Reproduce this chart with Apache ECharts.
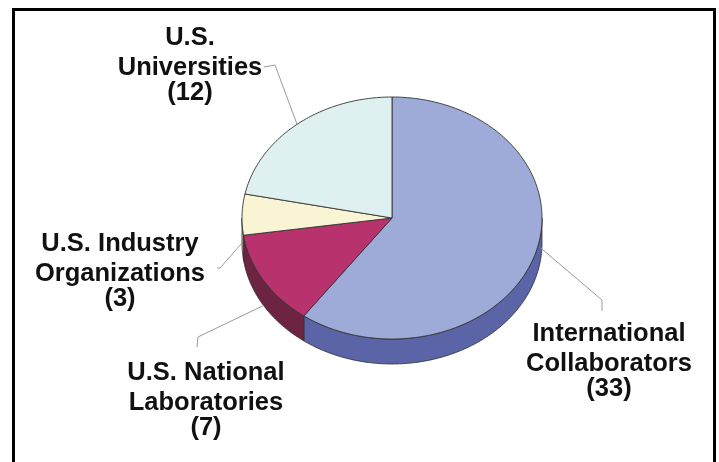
<!DOCTYPE html>
<html>
<head>
<meta charset="utf-8">
<script src="https://cdn.jsdelivr.net/npm/echarts@6/dist/echarts.min.js"></script>
<style>
  html, body { margin: 0; padding: 0; background: #ffffff; }
  #chart { width: 719px; height: 462px; }
</style>
</head>
<body>
<div id="chart"></div>
<script>
// Participants by organization type
const categories = [
  'International\nCollaborators',
  'U.S. National\nLaboratories',
  'U.S. Industry\nOrganizations',
  'U.S.\nUniversities'
];
const values = [33, 7, 3, 12];

// Face and wall colours per slice
const topColors  = ['#9eabd9', '#b8336e', '#f8f4d4', '#dff0f0'];
const sideColors = ['#5b64a7', '#6d2443', '#bcb58d', '#a9c0c0'];

// Disc geometry (tilted disc, orthographic view)
const disc = { cx: 392, cy: 218, rx: 150, ry: 121, depth: 25 };

// Label placement: text centre x, first line centre y, leader anchor inside the slice
// (frac = position along the slice arc, drop = share of the wall height),
// and the bend points of the leader line toward the text.
const labelLayout = [
  { x: 609, y: 334, frac: 0.45, drop: 0.6, path: [[602, 300], [602, 311]] },
  { x: 206, y: 373, frac: 0.5, drop: 1.0, path: [[198, 337], [197, 347]] },
  { x: 120, y: 244, frac: 0.3, drop: 0.8, path: [[220, 268], [217, 268]] },
  { x: 190, y: 38,  frac: 0.5, drop: 0.0, path: [[275, 65], [264, 67]] }
];
const lineOffsets = [0, 30, 55];

const total = values.reduce((a, b) => a + b, 0);
const startAngles = [];
values.reduce((acc, v, i) => { startAngles[i] = acc; return acc + v; }, 0);

// angle in degrees, measured clockwise from 12 o'clock
function rim(deg, dy) {
  const r = deg * Math.PI / 180;
  return [disc.cx + disc.rx * Math.sin(r), disc.cy - disc.ry * Math.cos(r) + (dy || 0)];
}
function arc(a0, a1, dy) {
  const pts = [];
  const n = Math.max(2, Math.ceil(Math.abs(a1 - a0)));
  for (let k = 0; k <= n; k++) pts.push(rim(a0 + (a1 - a0) * k / n, dy));
  return pts;
}

const font = 'bold 25.5px "Liberation Sans", Arial, sans-serif';

function renderItem(params, api) {
  const i = params.dataIndex;
  const v = api.value(0);
  const a0 = startAngles[i] / total * 360;
  const a1 = a0 + v / total * 360;
  const children = [];

  // front wall: only the part of the rim facing the viewer (90..270 deg)
  const w0 = Math.max(a0, 90), w1 = Math.min(a1, 270);
  if (w1 > w0) {
    const upper = arc(w0, w1, 0);
    const lower = arc(w0, w1, disc.depth).reverse();
    children.push({
      type: 'polygon',
      z2: 1,
      shape: { points: upper.concat(lower) },
      style: { fill: sideColors[i], stroke: '#2e2e2e', lineWidth: 0.8 }
    });
  }

  // top face
  children.push({
    type: 'polygon',
    z2: 2,
    shape: { points: [[disc.cx, disc.cy]].concat(arc(a0, a1, 0)) },
    style: { fill: topColors[i], stroke: '#333333', lineWidth: 0.9 }
  });

  // leader line
  const L = labelLayout[i];
  const anchor = rim(a0 + (a1 - a0) * L.frac, disc.depth * L.drop);
  children.push({
    type: 'polyline',
    z2: 3,
    shape: { points: [anchor].concat(L.path) },
    style: { stroke: '#9a9a9a', lineWidth: 1, fill: null }
  });

  // label text: category lines and the value in brackets
  const lines = categories[i].split('\n').concat(['(' + v + ')']);
  lines.forEach((t, k) => {
    children.push({
      type: 'text',
      z2: 4,
      style: {
        text: t,
        x: L.x,
        y: L.y + lineOffsets[k],
        align: 'center',
        verticalAlign: 'middle',
        font: font,
        fill: '#111111'
      }
    });
  });

  return { type: 'group', children: children };
}

const chart = echarts.init(document.getElementById('chart'), null, { renderer: 'canvas' });
chart.setOption({
  backgroundColor: '#ffffff',
  animation: false,
  graphic: [{
    type: 'rect',
    shape: { x: 13.5, y: 9.5, width: 701, height: 470 },
    style: { fill: null, stroke: '#000000', lineWidth: 3 },
    silent: true
  }],
  series: [{
    type: 'custom',
    coordinateSystem: 'none',
    renderItem: renderItem,
    data: values.map((v, i) => ({ name: categories[i], value: [v, i] }))
  }]
});
</script>
</body>
</html>
